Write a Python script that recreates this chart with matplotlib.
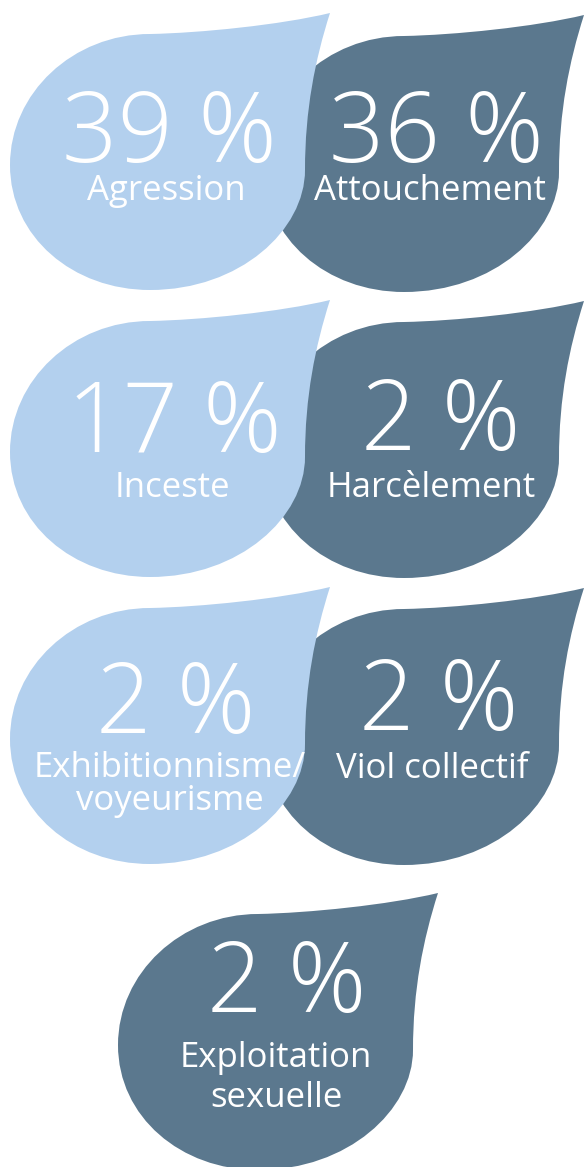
import matplotlib
matplotlib.use("Agg")
import matplotlib.pyplot as plt
from matplotlib.path import Path
from matplotlib.patches import PathPatch

# ---- data ----
values = [39, 36, 17, 2, 2, 2, 2]
labels = ["Agression", "Attouchement", "Inceste", "Harcèlement",
          "Exhibitionnisme/\nvoyeurisme", "Viol collectif",
          "Exploitation\nsexuelle"]
tones = ["light", "dark", "light", "dark", "light", "dark", "dark"]

# ---- layout (pixel space) ----
W, H = 584, 1167
LIGHT = "#b3d0ee"
DARK = "#5b788e"
# drop offsets (dx, dy) relative to the base drop shape
offsets = [(0, 0), (254, 2), (0, 287), (254, 288), (0, 574), (254, 575), (108, 880)]
# number centre x / baseline, label centre x / first baseline, line gap
num_pos = [(169, 162), (436, 162), (174, 452), (441, 450), (176, 733), (439, 730), (287, 1012)]
lab_pos = [(166, 200), (430, 200), (172, 497), (431, 497), (170, 777), (432, 778), (276, 1067)]
gaps = [33, 33, 33, 33, 33, 33, 40]

fig = plt.figure(figsize=(W / 100, H / 100), dpi=100)
ax = fig.add_axes([0, 0, 1, 1])
ax.set_xlim(0, W)
ax.set_ylim(H, 0)
ax.axis("off")

base = [
    (Path.MOVETO, (330, 13)),
    (Path.CURVE4, (280, 25)), (Path.CURVE4, (200, 33)), (Path.CURVE4, (150, 34)),
    (Path.CURVE4, (73, 34)), (Path.CURVE4, (10, 93)), (Path.CURVE4, (10, 165)),
    (Path.CURVE4, (10, 237)), (Path.CURVE4, (73, 290)), (Path.CURVE4, (150, 290)),
    (Path.CURVE4, (240, 290)), (Path.CURVE4, (305, 230)), (Path.CURVE4, (305, 170)),
    (Path.CURVE4, (305, 110)), (Path.CURVE4, (315, 60)), (Path.CURVE4, (330, 13)),
    (Path.CLOSEPOLY, (330, 13)),
]
codes = [c for c, _ in base]

FONT = ["Open Sans", "DejaVu Sans"]

# draw dark drops first so the light ones sit on top
order = sorted(range(len(values)), key=lambda i: 0 if tones[i] == "dark" else 1)
for z, i in enumerate(order):
    dx, dy = offsets[i]
    verts = [(x + dx, y + dy) for _, (x, y) in base]
    col = LIGHT if tones[i] == "light" else DARK
    ax.add_patch(PathPatch(Path(verts, codes), facecolor=col, edgecolor="none", zorder=1 + z))

for i, v in enumerate(values):
    nx, ny = num_pos[i]
    ax.text(nx, ny, f"{v} %", ha="center", va="baseline", color="white",
            fontsize=70, fontweight=300, family=FONT, zorder=20)
    lx, ly = lab_pos[i]
    for k, line in enumerate(labels[i].split("\n")):
        ax.text(lx, ly + k * gaps[i], line, ha="center", va="baseline", color="white",
                fontsize=25, fontweight="normal", family=FONT, zorder=20)

fig.savefig("out.png", dpi=100, facecolor="white")
